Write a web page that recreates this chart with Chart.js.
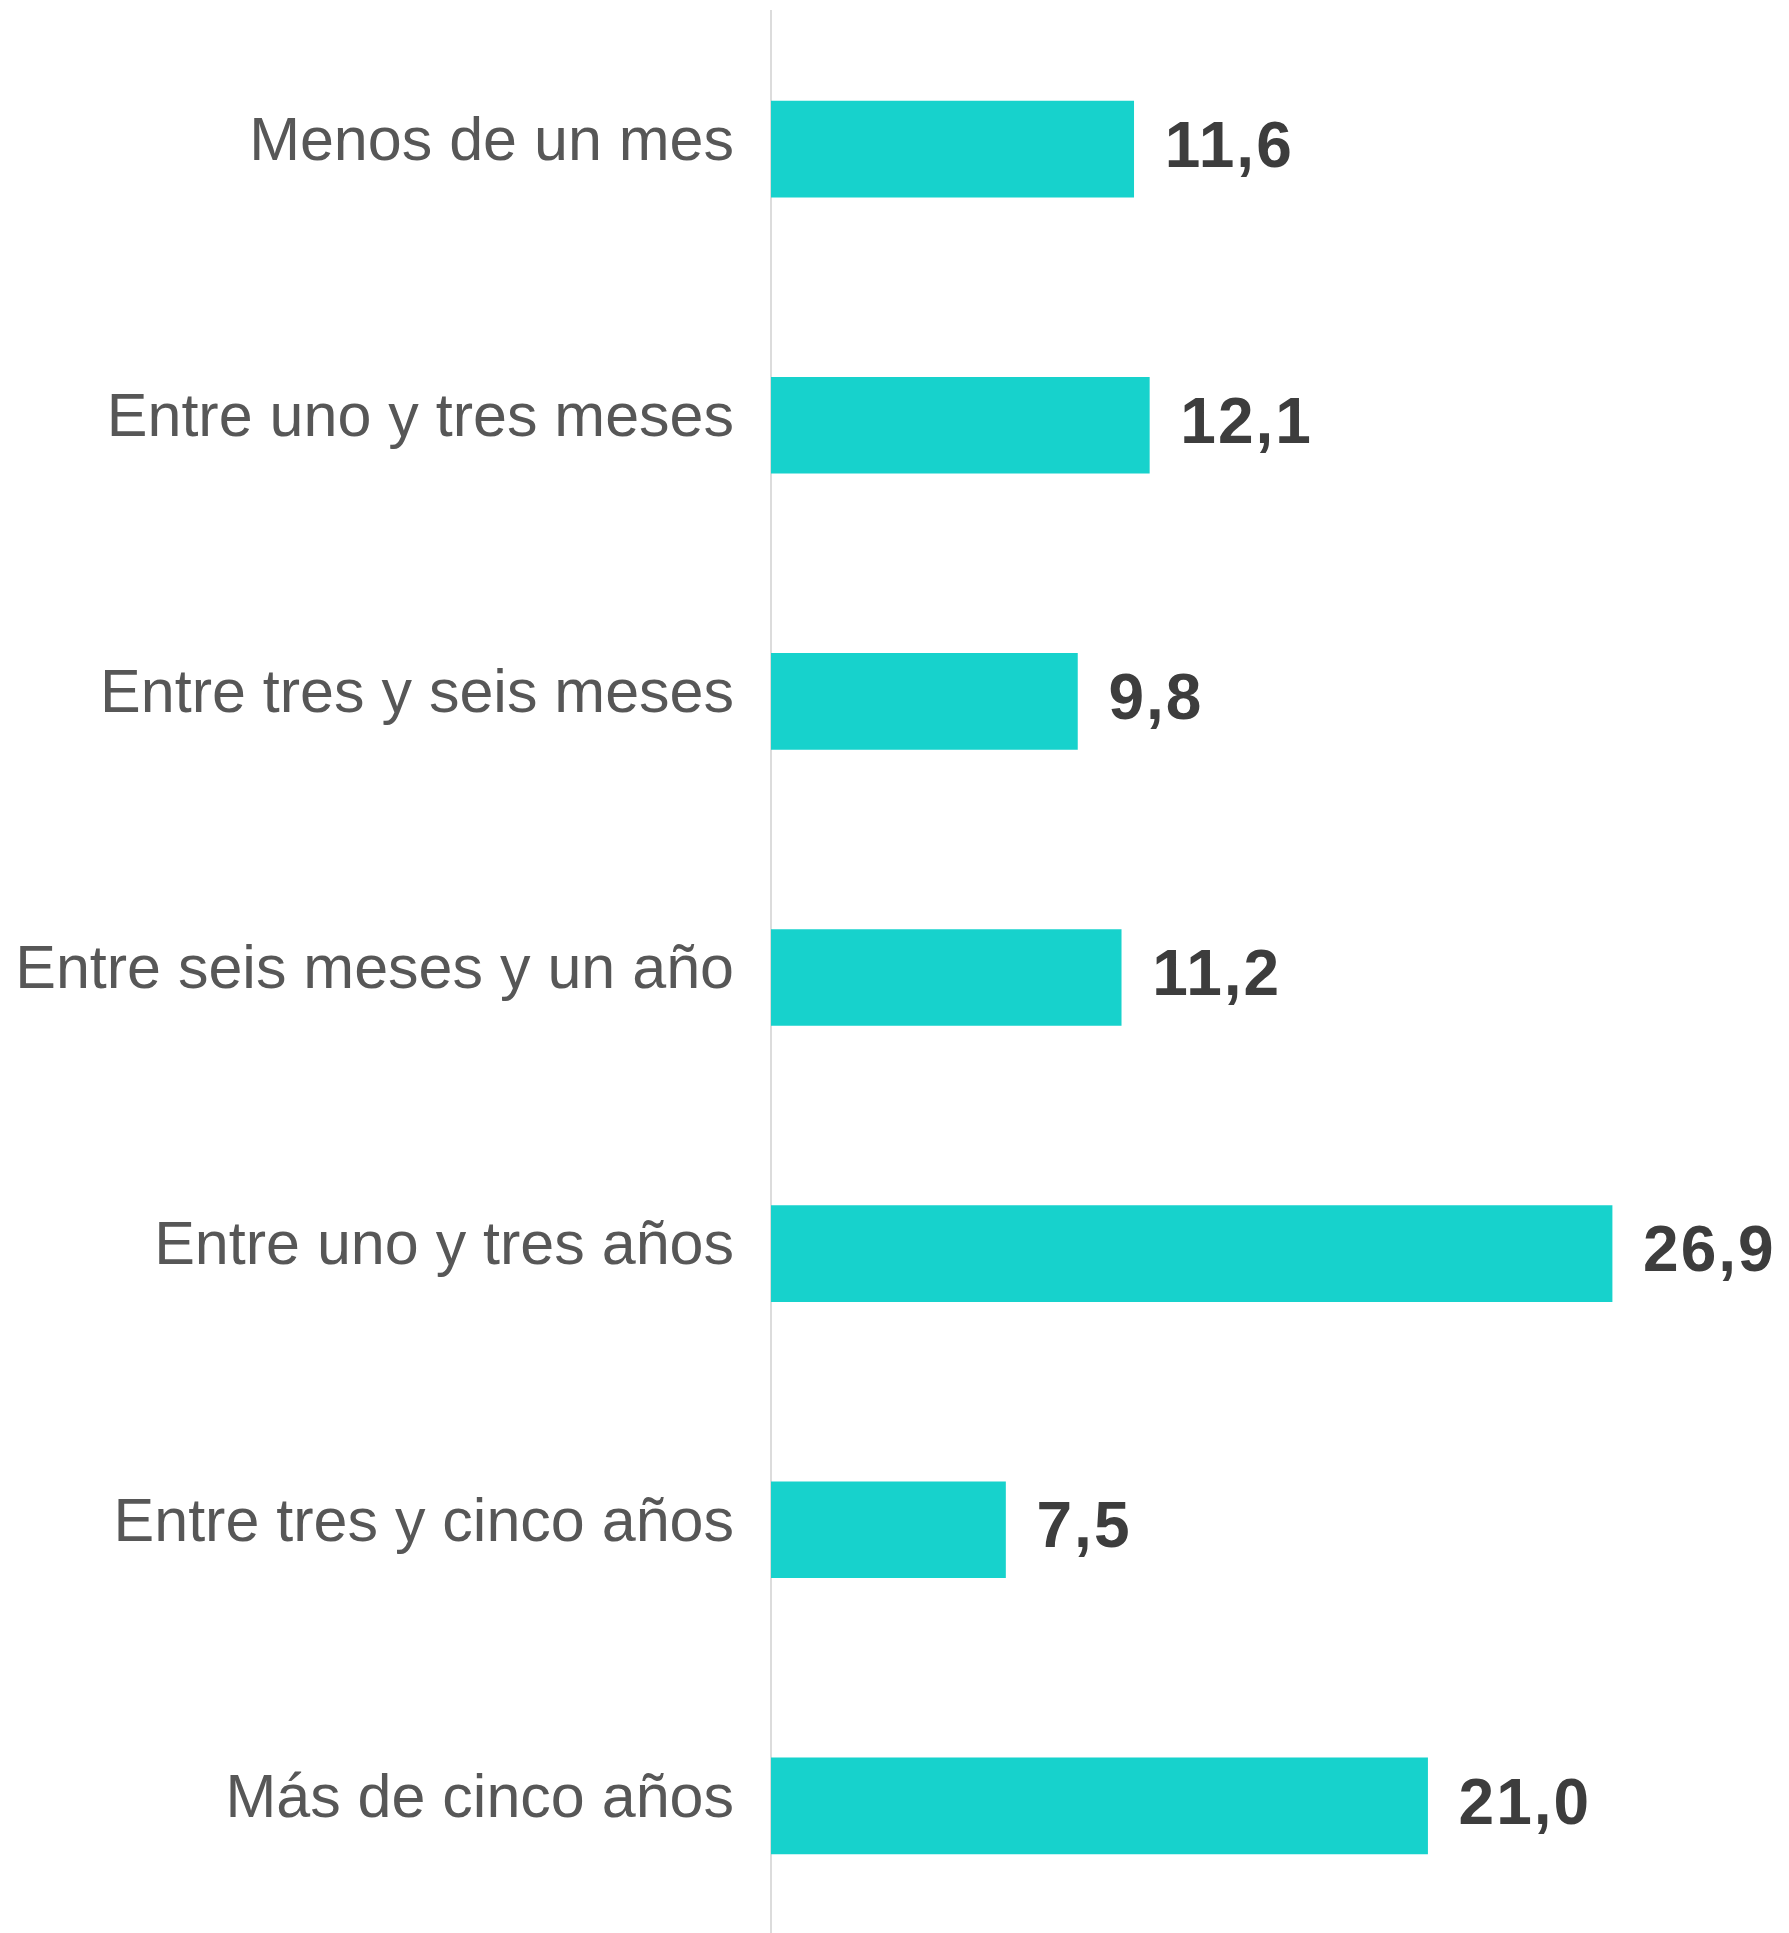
<!DOCTYPE html>
<html lang="es">
<head>
    <meta charset="UTF-8">
    <title>Tiempo</title>
    <style>
        html, body { margin: 0; padding: 0; background: #fff; overflow: hidden; }
        .wrap { position: relative; width: 1789px; height: 1944px; }
    </style>
</head>
<body>
    <div class="wrap">
        <canvas id="chart"></canvas>
    </div>

    <script src="https://cdn.jsdelivr.net/npm/chart.js"></script>
    <script>
        const categories = [
            'Menos de un mes',
            'Entre uno y tres meses',
            'Entre tres y seis meses',
            'Entre seis meses y un año',
            'Entre uno y tres años',
            'Entre tres y cinco años',
            'Más de cinco años'
        ];
        const values = [11.6, 12.1, 9.8, 11.2, 26.9, 7.5, 21.0];

        // draws the number to the right of each bar
        const valueLabels = {
            id: 'valueLabels',
            afterDatasetsDraw(chart) {
                const ctx = chart.ctx;
                const meta = chart.getDatasetMeta(0);
                ctx.save();
                ctx.font = 'bold 64px "Liberation Sans", Arial, sans-serif';
                ctx.letterSpacing = '2px';
                ctx.fillStyle = '#3d3d3d';
                ctx.textAlign = 'left';
                ctx.textBaseline = 'middle';
                meta.data.forEach((bar, i) => {
                    const txt = values[i].toFixed(1).replace('.', ',');
                    ctx.fillText(txt, bar.x + 31, bar.y);
                });
                ctx.restore();
            }
        };

        new Chart(document.getElementById('chart'), {
            type: 'bar',
            data: {
                labels: categories,
                datasets: [{
                    data: values,
                    backgroundColor: '#17d2cc',
                    borderWidth: 0,
                    barThickness: 96
                }]
            },
            options: {
                indexAxis: 'y',
                responsive: true,
                maintainAspectRatio: false,
                animation: false,
                layout: { padding: { top: 11, right: 80, bottom: 0, left: 0 } },
                plugins: {
                    legend: { display: false },
                    tooltip: { enabled: false }
                },
                scales: {
                    x: {
                        display: false,
                        min: 0,
                        max: 30
                    },
                    y: {
                        grid: { display: false },
                        border: { display: true, color: '#dcdcdc', width: 2 },
                        ticks: {
                            padding: 29,
                            labelOffset: -6,
                            color: '#575757',
                            font: { family: '"Liberation Sans", Arial, sans-serif', size: 61 }
                        },
                        afterFit(scale) {
                            scale.width = 771;
                            scale.paddingTop = 0;
                            scale.paddingBottom = 0;
                        }
                    }
                }
            },
            plugins: [valueLabels]
        });
    </script>
</body>
</html>
